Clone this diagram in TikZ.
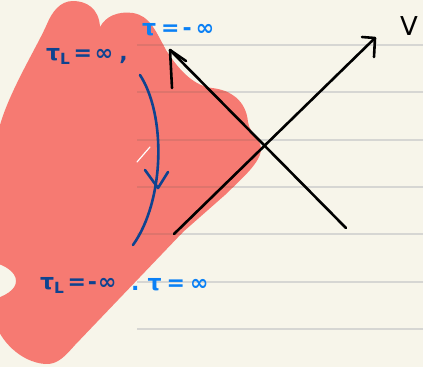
\documentclass[tikz,border=0pt]{standalone}
\usepackage{fontspec}
\setmainfont{DejaVu Sans}
\definecolor{cream}{HTML}{F7F5EA}
\definecolor{salmon}{HTML}{F67A72}
\definecolor{rulec}{HTML}{D6D6D3}
\definecolor{ruleon}{HTML}{DE746C}
\definecolor{dblue}{HTML}{0E4390}
\definecolor{lblue}{HTML}{0A80F5}
\tikzset{
  blobpath/.style={insert path={
    (-8,130) -- (-6,200) -- (-8,262)
    .. controls (5,265) and (16,272) .. (16,281)
    .. controls (16,290) and (5,296) .. (-8,300)
    -- (-5,322)
    .. controls (0,340) and (20,362) .. (45,364)
    .. controls (58,365) and (66,355) .. (75,345)
    -- (183,232) -- (225,195)
    .. controls (240,180) and (262,162) .. (261,148)
    .. controls (260,138) and (250,134) .. (248,122)
    .. controls (246,100) and (230,90) .. (212,88)
    .. controls (195,86) and (180,72) .. (166,50)
    .. controls (155,30) and (150,16) .. (133,13)
    .. controls (118,11) and (106,16) .. (100,27)
    .. controls (99,8) and (86,1) .. (73,1)
    .. controls (60,1) and (52,12) .. (47,24)
    .. controls (38,45) and (10,90) .. (0,125) -- cycle}},
  ink/.style={line width=2.6pt, line cap=round, line join=round, black},
  bluepen/.style={line width=2.6pt, line cap=round, line join=round, dblue},
  dlabel/.style={text=dblue, font=\fontsize{22}{26}\selectfont\bfseries, inner sep=0pt},
  llabel/.style={text=lblue, font=\fontsize{22}{26}\selectfont\bfseries, inner sep=0pt},
  paperrule/.style={line width=1.3pt, rulec},
}
\begin{document}
\begin{tikzpicture}[x=1pt,y=-1pt]
\useasboundingbox (0,0) rectangle (423,367);
\fill[cream] (0,0) rectangle (423,367);
\foreach \yy in {45,92,140,187,234,282,329}
  \draw[paperrule] (137,\yy) -- (423,\yy);
\fill[salmon, blobpath];
\begin{scope}
  \clip[blobpath];
  \foreach \yy in {45,92,140,187,234,282,329}
    \draw[line width=1.3pt, ruleon] (137,\yy) -- (423,\yy);
\end{scope}
% white highlight
\coordinate (W1) at (137,162);
\coordinate (W2) at (150,147);
\draw[white, line width=1.2pt, line cap=round] (W1) -- (W2);
% black axes
\coordinate (A1) at (174,234);
\coordinate (A2) at (375,38);
\coordinate (A2l) at (362,37);
\coordinate (A2r) at (374,57);
\coordinate (B1) at (346,228);
\coordinate (B2) at (170,50);
\coordinate (B2r) at (186,61);
\coordinate (B2d) at (172,88);
\draw[ink] (A1) -- (A2);
\draw[ink] (A2l) -- (A2) -- (A2r);
\draw[ink] (B1) -- (B2);
\draw[ink] (B2r) -- (B2) -- (B2d);
% dark blue curved arrow
\coordinate (C1) at (140,75);
\coordinate (C2) at (133,245);
\coordinate (D0) at (158,188);
\coordinate (D1) at (145,170);
\coordinate (D2) at (168,172);
\draw[bluepen] (C1) .. controls (166,115) and (165,200) .. (C2);
\draw[bluepen] (D1) -- (D0) -- (D2);
% labels
\node[dlabel, anchor=base west] (tl1) at (46,60) {τ\textsubscript{L}\hspace{3pt}=\hspace{3pt}∞\hspace{6pt},};
\node[llabel, anchor=base west] (t1) at (142,35) {τ\hspace{5pt}=\hspace{3pt}-\hspace{4pt}∞};
\node[dlabel, anchor=base west] (tl2) at (40,289) {τ\textsubscript{L}\hspace{3pt}=\hspace{2pt}-\hspace{1pt}∞};
\node[llabel, anchor=base west] (t2) at (131,290) {.\hspace{8pt}τ\hspace{5pt}=\hspace{5pt}∞};
\node[anchor=base, inner sep=0pt, font=\fontsize{26}{30}\selectfont] (V) at (409,35) {V};
\end{tikzpicture}
\end{document}
